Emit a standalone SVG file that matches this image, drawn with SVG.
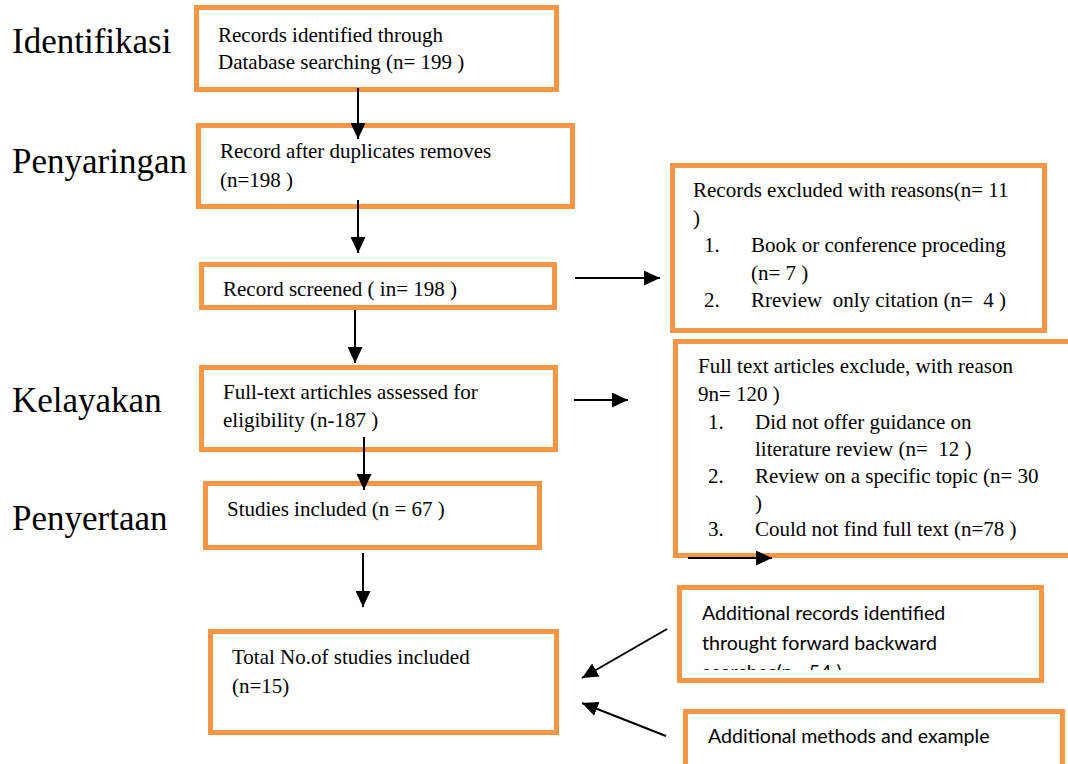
<svg xmlns="http://www.w3.org/2000/svg" width="1068" height="764" viewBox="0 0 1068 764" xml:space="preserve">
<style>
.box{fill:#fff;stroke:#F79646;stroke-width:5}
text{white-space:pre}
.t{font-family:"Liberation Serif","Times New Roman",serif;font-size:21px;fill:#000}
.s{font-family:Lato,"Open Sans",sans-serif;font-size:19.6px;fill:#000}
.lbl{font-family:"Liberation Serif","Times New Roman",serif;font-size:35px;fill:#000}
.c{stroke:#000;stroke-width:2;fill:none;marker-end:url(#ah)}
</style>
<defs>
<marker id="ah" markerUnits="userSpaceOnUse" markerWidth="16" markerHeight="15" refX="16" refY="7.5" orient="auto">
<path d="M0,0 L16,7.5 L0,15 z" fill="#000"/>
</marker>
<clipPath id="clip7"><rect x="679" y="587" width="363" height="83"/></clipPath>
</defs>
<g id="labels">
<text class="lbl" x="12" y="53">Identifikasi</text>
<text class="lbl" x="12" y="173">Penyaringan</text>
<text class="lbl" x="12" y="412">Kelayakan</text>
<text class="lbl" x="12" y="530">Penyertaan</text>
</g>
<g id="n1">
<rect class="box" x="196.5" y="7.5" width="360" height="82"/>
<text class="t" x="218" y="42">Records identified through</text>
<text class="t" x="218" y="69">Database searching (n= 199 )</text>
</g>
<g id="n2">
<rect class="box" x="198.5" y="125.5" width="374" height="81"/>
<text class="t" x="220" y="158">Record after duplicates removes</text>
<text class="t" x="220" y="187">(n=198 )</text>
</g>
<g id="n3">
<rect class="box" x="201.5" y="264.5" width="353" height="43"/>
<text class="t" x="223" y="296">Record screened ( in= 198 )</text>
</g>
<g id="n4">
<rect class="box" x="201.5" y="367.5" width="354" height="82"/>
<text class="t" x="223" y="399">Full-text artichles assessed for</text>
<text class="t" x="223" y="427">eligibility (n-187 )</text>
</g>
<g id="n5">
<rect class="box" x="205.5" y="483.5" width="334" height="64"/>
<text class="t" x="227" y="516">Studies included (n = 67 )</text>
</g>
<g id="n6">
<rect class="box" x="210.5" y="631.5" width="346" height="101"/>
<text class="t" x="232" y="664">Total No.of studies included</text>
<text class="t" x="232" y="693">(n=15)</text>
</g>
<g id="n7">
<rect class="box" x="672.5" y="165.5" width="372" height="165"/>
<text class="t" x="693" y="197">Records excluded with reasons(n= 11</text>
<text class="t" x="693" y="224.5">)</text>
<text class="t" x="704" y="252">1.</text>
<text class="t" x="751" y="252">Book or conference proceding</text>
<text class="t" x="751" y="280">(n= 7 )</text>
<text class="t" x="704" y="307">2.</text>
<text class="t" x="751" y="307">Rreview  only citation (n=  4 )</text>
</g>
<g id="n8">
<rect class="box" x="675.5" y="341.5" width="400" height="214"/>
<text class="t" x="698" y="373">Full text articles exclude, with reason</text>
<text class="t" x="698" y="401">9n= 120 )</text>
<text class="t" x="708" y="429">1.</text>
<text class="t" x="755" y="429">Did not offer guidance on</text>
<text class="t" x="755" y="456">literature review (n=  12 )</text>
<text class="t" x="708" y="483">2.</text>
<text class="t" x="755" y="483">Review on a specific topic (n= 30</text>
<text class="t" x="755" y="510">)</text>
<text class="t" x="708" y="536">3.</text>
<text class="t" x="755" y="536">Could not find full text (n=78 )</text>
</g>
<g id="n9">
<rect class="box" x="679.5" y="587.5" width="362" height="93"/>
<g clip-path="url(#clip7)">
<text class="s" x="702" y="620">Additional records identified</text>
<text class="s" x="702" y="650">throught forward backward</text>
<text class="s" x="702" y="679">searches(n= 54 )</text>
</g>
</g>
<g id="n10">
<rect class="box" x="685.5" y="711.5" width="377" height="70"/>
<text class="s" x="708" y="743">Additional methods and example</text>
</g>
<g id="connectors">
<line class="c" x1="358" y1="88" x2="358" y2="139"/>
<line class="c" x1="358" y1="200" x2="358" y2="253"/>
<line class="c" x1="355" y1="310" x2="355" y2="363"/>
<line class="c" x1="364" y1="437" x2="364" y2="490"/>
<line class="c" x1="363" y1="553" x2="363" y2="607"/>
<line class="c" x1="575" y1="278" x2="660" y2="278"/>
<line class="c" x1="574" y1="400" x2="628" y2="400"/>
<line class="c" x1="688" y1="558" x2="772" y2="558"/>
<line class="c" x1="667" y1="629" x2="582" y2="678"/>
<line class="c" x1="666" y1="736" x2="582" y2="703"/>
</g>
</svg>
